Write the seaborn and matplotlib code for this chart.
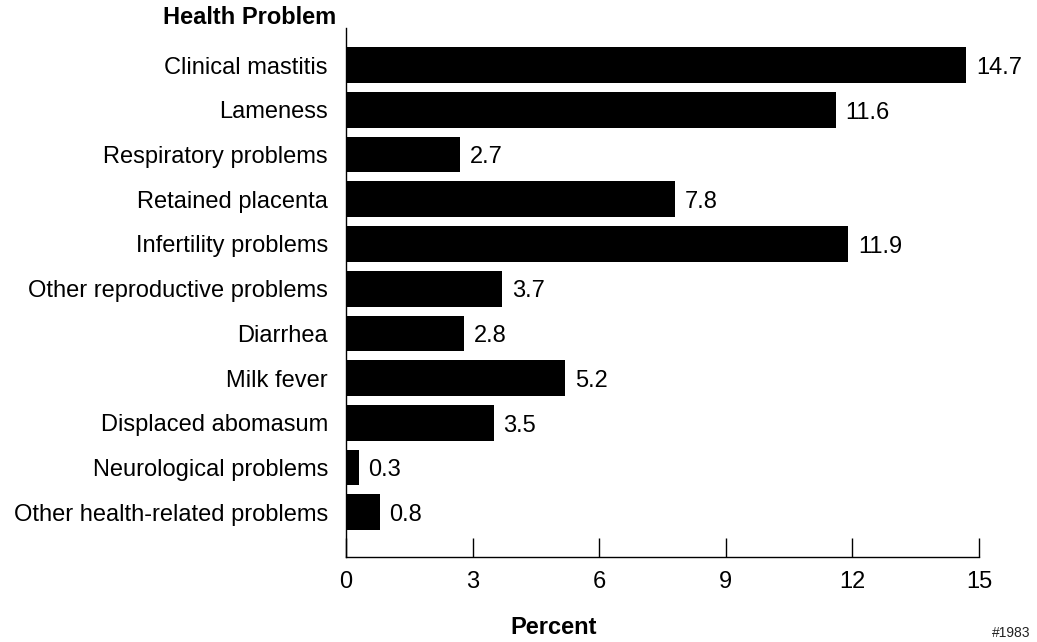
import matplotlib
matplotlib.use("Agg")
import matplotlib.pyplot as plt
import seaborn as sns
import pandas as pd

categories = [
    "Clinical mastitis", "Lameness", "Respiratory problems", "Retained placenta",
    "Infertility problems", "Other reproductive problems", "Diarrhea", "Milk fever",
    "Displaced abomasum", "Neurological problems", "Other health-related problems",
]
percent = [14.7, 11.6, 2.7, 7.8, 11.9, 3.7, 2.8, 5.2, 3.5, 0.3, 0.8]
xticks = [0, 3, 6, 9, 12, 15]

sns.set_style("white")
plt.rcParams["font.family"] = ["Liberation Sans", "DejaVu Sans"]
plt.rcParams["text.color"] = "black"
plt.rcParams["xtick.color"] = "black"
plt.rcParams["ytick.color"] = "black"

FS = 17

df = pd.DataFrame({"Health Problem": categories, "Percent": percent})

fig = plt.figure(figsize=(10.37, 6.42), dpi=100)
ax = fig.add_axes([0.3337, 0.1324, 0.6104, 0.824])
sns.barplot(data=df, x="Percent", y="Health Problem", color="black",
            saturation=1, width=0.8, orient="h", ax=ax)
for p in ax.patches:
    p.set_edgecolor("none")
labels = ax.bar_label(ax.containers[0], labels=[f"{v:.1f}" for v in percent],
                      padding=7, fontsize=FS, color="black")
for t in labels:
    t.xyann = (7, -2)

ax.set_xlim(0, 15)
ax.set_ylim(len(categories) - 1 + 1.0, -0.83)
ax.set_xticks(xticks)
ax.set_xticklabels([str(t) for t in xticks], fontsize=FS)
ax.tick_params(axis="x", bottom=True, direction="in", length=14, width=1,
               pad=10, colors="black")
ax.tick_params(axis="y", left=False, length=0, pad=13, labelsize=FS, colors="black")
ax.set_xlabel("")
ax.set_ylabel("")
for s in ["top", "right"]:
    ax.spines[s].set_visible(False)
for s in ["left", "bottom"]:
    ax.spines[s].set_color("black")
    ax.spines[s].set_linewidth(1)

fig.text(250 / 1037, 1 - 18 / 642, "Health Problem", ha="center", va="center",
         fontsize=FS, fontweight="bold")
fig.text(554 / 1037, 1 - 628 / 642, "Percent", ha="center", va="center",
         fontsize=FS, fontweight="bold")
fig.text(1030 / 1037, 2 / 642, "#1983", ha="right", va="bottom",
         fontsize=10, color="#222222")

fig.savefig("out.png", dpi=100)
